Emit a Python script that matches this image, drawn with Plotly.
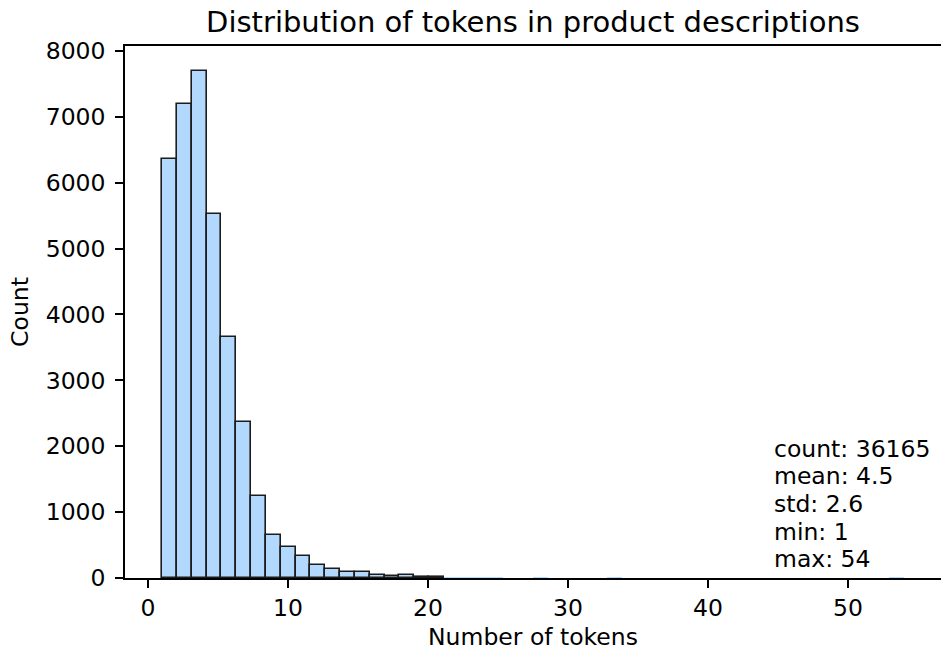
import plotly.graph_objects as go

# ---- data ----
token_min = 1
token_max = 54
n_bins = 50
bin_counts = [6366, 7195, 7690, 5525, 3660, 2365, 1240, 650, 470, 340,
              190, 130, 88, 95, 40, 35, 50, 15, 10, 4,
              2, 1, 1, 0, 0, 1, 0, 0, 0, 0,
              1, 0, 0, 0, 0, 0, 0, 0, 0, 0,
              0, 0, 0, 0, 0, 0, 0, 0, 0, 1]
stats_labels = ["count", "mean", "std", "min", "max"]
stats_values = ["36165", "4.5", "2.6", "1", "54"]
x_ticks = [0, 10, 20, 30, 40, 50]
y_ticks = [0, 1000, 2000, 3000, 4000, 5000, 6000, 7000, 8000]

bin_width = (token_max - token_min) / n_bins
centers = [token_min + bin_width * (k + 0.5) for k in range(n_bins)]
# bars only a fraction of a pixel tall are not visibly outlined in the reference
edge_widths = [1.6 if c >= 5 else 0 for c in bin_counts]

FONT = "DejaVu Sans"

fig = go.Figure(go.Bar(
    x=centers, y=bin_counts, width=bin_width,
    marker=dict(color="#b3d8fd", line=dict(color="#1c1c1c", width=edge_widths)),
))

span = token_max - token_min
fig.update_layout(
    width=941, height=654,
    margin=dict(l=125, r=0, t=46, b=76),
    plot_bgcolor="white", paper_bgcolor="white",
    showlegend=False,
    bargap=0,
    font=dict(family=FONT, color="black", size=23.5),
    title=dict(text="Distribution of tokens in product descriptions",
               x=0.5, xref="paper", xanchor="center",
               y=1 - 22 / 654, yref="container", yanchor="middle",
               automargin=False,
               font=dict(family=FONT, size=29, color="black")),
)
fig.update_xaxes(
    range=[token_min - 0.05 * span, token_max + 0.05 * span],
    tickvals=x_ticks, ticks="outside", ticklen=8, tickwidth=1.6, tickcolor="black",
    showline=True, linecolor="black", linewidth=1.6, mirror=True,
    showgrid=False, zeroline=False, automargin=False,
    tickfont=dict(size=23.5),
    title=dict(text="Number of tokens", font=dict(size=23.5), standoff=8),
)
fig.update_yaxes(
    range=[0, max(bin_counts) * 1.05],
    tickvals=y_ticks, ticks="outside", ticklen=8, tickwidth=1.6, tickcolor="black",
    showline=True, linecolor="black", linewidth=1.6, mirror=False,
    showgrid=False, zeroline=False, automargin=False,
    tickfont=dict(size=23.5), ticklabelstandoff=5,
    title=dict(text="Count", font=dict(size=23.5), standoff=10),
)

line_y = [0.2425, 0.1908, 0.1391, 0.0874, 0.0357]
for lab, val, yy in zip(stats_labels, stats_values, line_y):
    fig.add_annotation(text=f"{lab}: {val}", xref="paper", yref="paper",
                       x=0.793, y=yy, xanchor="left", yanchor="middle",
                       showarrow=False, font=dict(family=FONT, size=23.5, color="black"))

fig.write_html("out.html", config={"displayModeBar": False},
               post_script="document.body.style.margin='0';document.body.style.overflow='hidden';")
